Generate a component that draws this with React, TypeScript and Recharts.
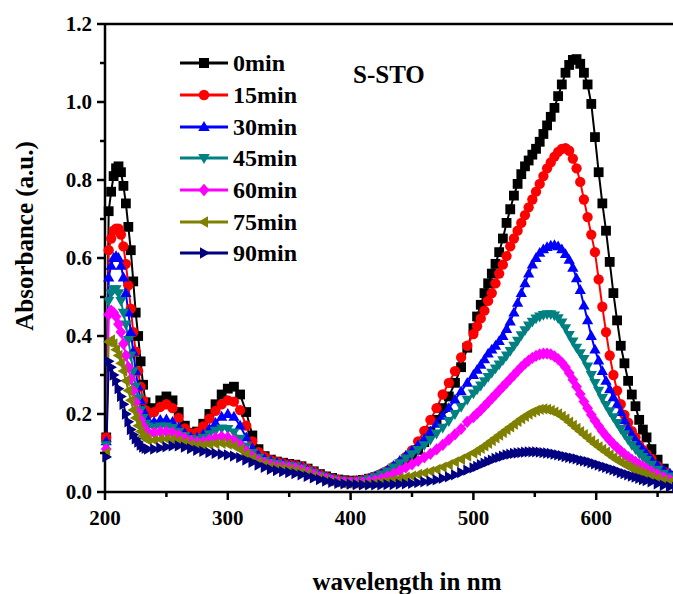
import { LineChart, Line, XAxis, YAxis, ReferenceLine, Legend, Label } from 'recharts';

// wavelength grid (nm)
const WAVELENGTH = [
  201, 203, 205, 207, 209, 211, 213, 215, 217, 219, 221, 223, 225, 227, 229, 231, 233, 235,
  240, 245, 250, 255, 260, 265, 270, 275, 280, 285,
  290, 295, 300, 305, 310, 315, 320, 325, 330, 335,
  340, 345, 350, 355, 360, 365, 370, 375, 380, 385,
  390, 395, 400, 405, 410, 415, 420, 425, 430, 435,
  440, 445, 450, 455, 460, 465, 470, 475, 480, 485,
  490, 495, 500,
  503, 506, 509, 512, 515, 518, 521, 524, 527, 530,
  533, 536, 539, 542, 545, 548, 551, 554, 557, 560,
  563, 566, 569, 572, 575, 578, 581, 584, 587, 590,
  593, 596, 599, 602, 605, 608, 611, 614, 617, 620,
  623, 626, 629, 632, 635, 638, 641,
  645, 650, 655, 660, 665,
];

const ABS_0 = [
  0.14, 0.72, 0.77, 0.81, 0.83, 0.835, 0.82, 0.785, 0.74, 0.68, 0.62, 0.54, 0.46, 0.4, 0.335, 0.275, 0.23, 0.205,
  0.215, 0.235, 0.245, 0.235, 0.205, 0.17, 0.152, 0.155, 0.175, 0.2,
  0.225, 0.25, 0.265, 0.27, 0.25, 0.205, 0.145, 0.11, 0.092, 0.083,
  0.078, 0.075, 0.072, 0.07, 0.066, 0.06, 0.053, 0.046, 0.04, 0.036,
  0.032, 0.03, 0.029, 0.029, 0.031, 0.034, 0.038, 0.043, 0.05, 0.058,
  0.065, 0.078, 0.092, 0.108, 0.128, 0.155, 0.185, 0.215, 0.245, 0.28,
  0.32, 0.37, 0.42,
  0.45, 0.48, 0.51, 0.535, 0.56, 0.585, 0.615, 0.65, 0.69, 0.725,
  0.76, 0.79, 0.815, 0.835, 0.85, 0.865, 0.88, 0.898, 0.918, 0.94,
  0.962, 0.985, 1.015, 1.045, 1.075, 1.095, 1.108, 1.11, 1.098, 1.075,
  1.045, 0.995, 0.91, 0.82, 0.74, 0.67, 0.59, 0.51, 0.44, 0.375,
  0.33, 0.285, 0.25, 0.22, 0.185, 0.16, 0.14,
  0.11, 0.083, 0.06, 0.042, 0.03,
];

const ABS_15 = [
  0.14, 0.62, 0.65, 0.67, 0.675, 0.675, 0.66, 0.63, 0.585, 0.53, 0.47, 0.41, 0.36, 0.31, 0.27, 0.235, 0.21, 0.2,
  0.205, 0.218, 0.225, 0.215, 0.19, 0.163, 0.15, 0.153, 0.168, 0.188,
  0.208, 0.225, 0.235, 0.232, 0.21, 0.17, 0.13, 0.102, 0.09, 0.082,
  0.077, 0.074, 0.071, 0.069, 0.065, 0.059, 0.052, 0.045, 0.039, 0.035,
  0.031, 0.029, 0.028, 0.029, 0.031, 0.035, 0.04, 0.047, 0.055, 0.065,
  0.075, 0.09, 0.107, 0.13, 0.157, 0.185, 0.215, 0.25, 0.28, 0.31,
  0.345, 0.375, 0.405,
  0.425, 0.445, 0.465, 0.49, 0.51, 0.535, 0.56, 0.583, 0.605, 0.63,
  0.65, 0.67, 0.69, 0.71, 0.73, 0.75, 0.77, 0.79, 0.81, 0.83,
  0.845, 0.86, 0.872, 0.88, 0.882, 0.875, 0.855, 0.83, 0.795, 0.75,
  0.705, 0.66, 0.615, 0.545, 0.475, 0.41, 0.35, 0.3, 0.26, 0.225,
  0.198, 0.178, 0.156, 0.14, 0.12, 0.108, 0.097,
  0.085, 0.066, 0.052, 0.041, 0.032,
];

const ABS_30 = [
  0.13, 0.55, 0.58, 0.6, 0.605, 0.6, 0.58, 0.55, 0.51, 0.46, 0.41, 0.36, 0.31, 0.27, 0.235, 0.21, 0.195, 0.185,
  0.18, 0.185, 0.186, 0.18, 0.166, 0.15, 0.141, 0.14, 0.148, 0.162,
  0.177, 0.193, 0.2, 0.193, 0.17, 0.14, 0.112, 0.094, 0.085, 0.079,
  0.075, 0.072, 0.069, 0.067, 0.063, 0.057, 0.05, 0.044, 0.038, 0.034,
  0.03, 0.028, 0.027, 0.028, 0.03, 0.034, 0.04, 0.047, 0.056, 0.067,
  0.08, 0.093, 0.106, 0.12, 0.136, 0.155, 0.175, 0.195, 0.215, 0.237,
  0.258, 0.28, 0.3,
  0.313, 0.326, 0.34, 0.355, 0.365, 0.375, 0.387, 0.4, 0.418, 0.437,
  0.46, 0.485, 0.51, 0.535, 0.56, 0.583, 0.6, 0.613, 0.622, 0.628,
  0.632, 0.633, 0.63, 0.622, 0.61, 0.595, 0.575, 0.548, 0.518, 0.478,
  0.44, 0.4, 0.365, 0.337, 0.31, 0.285, 0.263, 0.243, 0.225, 0.205,
  0.184, 0.163, 0.147, 0.133, 0.12, 0.108, 0.098,
  0.083, 0.068, 0.057, 0.048, 0.04,
];

const ABS_45 = [
  0.12, 0.49, 0.51, 0.52, 0.52, 0.51, 0.49, 0.46, 0.43, 0.39, 0.35, 0.31, 0.27, 0.24, 0.21, 0.19, 0.175, 0.168,
  0.165, 0.168, 0.168, 0.164, 0.155, 0.144, 0.136, 0.134, 0.139, 0.148,
  0.157, 0.163, 0.162, 0.153, 0.137, 0.117, 0.1, 0.088, 0.08, 0.075,
  0.072, 0.069, 0.067, 0.065, 0.06, 0.054, 0.048, 0.042, 0.037, 0.032,
  0.029, 0.027, 0.026, 0.027, 0.029, 0.033, 0.038, 0.045, 0.053, 0.063,
  0.074, 0.086, 0.097, 0.108, 0.12, 0.134, 0.15, 0.165, 0.182, 0.2,
  0.218, 0.237, 0.253,
  0.263, 0.273, 0.284, 0.295, 0.306, 0.317, 0.327, 0.338, 0.35, 0.362,
  0.375, 0.388, 0.402, 0.415, 0.427, 0.437, 0.445, 0.45, 0.454, 0.456,
  0.456, 0.453, 0.446, 0.435, 0.42, 0.403, 0.386, 0.37, 0.356, 0.341,
  0.322, 0.3, 0.28, 0.26, 0.241, 0.223, 0.207, 0.192, 0.177, 0.162,
  0.148, 0.134, 0.121, 0.11, 0.099, 0.09, 0.082,
  0.07, 0.057, 0.047, 0.04, 0.034,
];

const ABS_60 = [
  0.11, 0.455, 0.465, 0.46, 0.45, 0.43, 0.41, 0.38, 0.35, 0.32, 0.29, 0.26, 0.23, 0.205, 0.185, 0.17, 0.16, 0.153,
  0.152, 0.155, 0.155, 0.152, 0.146, 0.138, 0.131, 0.128, 0.129, 0.134,
  0.139, 0.142, 0.14, 0.133, 0.121, 0.105, 0.091, 0.081, 0.075, 0.07,
  0.067, 0.065, 0.063, 0.061, 0.057, 0.051, 0.045, 0.039, 0.034, 0.03,
  0.027, 0.025, 0.024, 0.024, 0.025, 0.027, 0.03, 0.034, 0.04, 0.047,
  0.055, 0.063, 0.071, 0.08, 0.089, 0.098, 0.109, 0.121, 0.134, 0.148,
  0.162, 0.18, 0.192,
  0.201, 0.21, 0.22, 0.23, 0.24, 0.25, 0.26, 0.27, 0.28, 0.29,
  0.3, 0.31, 0.32, 0.329, 0.337, 0.344, 0.349, 0.353, 0.355, 0.355,
  0.353, 0.348, 0.341, 0.332, 0.32, 0.305, 0.288, 0.27, 0.251, 0.232,
  0.215, 0.198, 0.183, 0.169, 0.156, 0.144, 0.133, 0.123, 0.114, 0.105,
  0.097, 0.09, 0.083, 0.077, 0.071, 0.065, 0.06,
  0.053, 0.045, 0.038, 0.032, 0.027,
];

const ABS_75 = [
  0.1, 0.385, 0.39, 0.38, 0.365, 0.35, 0.33, 0.31, 0.285, 0.26, 0.235, 0.21, 0.19, 0.17, 0.155, 0.143, 0.137, 0.133,
  0.133, 0.135, 0.136, 0.135, 0.132, 0.127, 0.122, 0.12, 0.12, 0.122,
  0.124, 0.125, 0.123, 0.118, 0.109, 0.097, 0.086, 0.076, 0.07, 0.065,
  0.062, 0.06, 0.058, 0.055, 0.051, 0.046, 0.04, 0.035, 0.03, 0.026,
  0.023, 0.021, 0.02, 0.02, 0.02, 0.021, 0.023, 0.025, 0.028, 0.031,
  0.035, 0.038, 0.041, 0.045, 0.049, 0.053, 0.058, 0.064, 0.07, 0.077,
  0.084, 0.092, 0.1,
  0.106, 0.112, 0.118, 0.125, 0.132, 0.139, 0.146, 0.153, 0.16, 0.167,
  0.174, 0.181, 0.188, 0.194, 0.2, 0.205, 0.209, 0.212, 0.213, 0.212,
  0.209, 0.205, 0.2, 0.194, 0.187, 0.179, 0.171, 0.163, 0.155, 0.147,
  0.139, 0.131, 0.123, 0.116, 0.109, 0.102, 0.095, 0.088, 0.082, 0.076,
  0.071, 0.066, 0.061, 0.056, 0.052, 0.048, 0.044,
  0.04, 0.035, 0.03, 0.026, 0.023,
];

const ABS_90 = [
  0.09, 0.335, 0.32, 0.3, 0.285, 0.265, 0.245, 0.225, 0.2, 0.18, 0.16, 0.147, 0.136, 0.128, 0.12, 0.115, 0.112, 0.11,
  0.11, 0.113, 0.116, 0.118, 0.118, 0.115, 0.111, 0.107, 0.104, 0.101,
  0.099, 0.097, 0.095, 0.092, 0.088, 0.082, 0.076, 0.069, 0.063, 0.058,
  0.055, 0.052, 0.05, 0.047, 0.044, 0.04, 0.036, 0.032, 0.028, 0.025,
  0.022, 0.021, 0.02, 0.019, 0.018, 0.018, 0.018, 0.018, 0.019, 0.019,
  0.02, 0.021, 0.022, 0.024, 0.026, 0.028, 0.031, 0.035, 0.039, 0.044,
  0.05, 0.056, 0.062,
  0.066, 0.07, 0.074, 0.078, 0.082, 0.086, 0.089, 0.092, 0.095, 0.097,
  0.099, 0.1, 0.101, 0.102, 0.103, 0.103, 0.103, 0.102, 0.101, 0.1,
  0.099, 0.097, 0.095, 0.093, 0.091, 0.089, 0.087, 0.085, 0.082, 0.08,
  0.078, 0.075, 0.072, 0.069, 0.066, 0.063, 0.06, 0.057, 0.054, 0.05,
  0.047, 0.044, 0.041, 0.038, 0.035, 0.032, 0.029,
  0.026, 0.021, 0.017, 0.014, 0.012,
];

const X_TICKS = [200, 250, 300, 350, 400, 450, 500, 550, 600, 650];
const Y_TICKS = [0, 0.1, 0.2, 0.3, 0.4, 0.5, 0.6, 0.7, 0.8, 0.9, 1.0, 1.1, 1.2];

const SERIES = [
  { key: 'm0', name: '0min', color: '#000000', shape: 'square', values: ABS_0 },
  { key: 'm15', name: '15min', color: '#FF0000', shape: 'circle', values: ABS_15 },
  { key: 'm30', name: '30min', color: '#0000FF', shape: 'up', values: ABS_30 },
  { key: 'm45', name: '45min', color: '#008080', shape: 'down', values: ABS_45 },
  { key: 'm60', name: '60min', color: '#FF00FF', shape: 'diamond', values: ABS_60 },
  { key: 'm75', name: '75min', color: '#808000', shape: 'left', values: ABS_75 },
  { key: 'm90', name: '90min', color: '#000080', shape: 'right', values: ABS_90 },
];

const FONT = '"Liberation Serif", "Times New Roman", serif';

const chartData = WAVELENGTH.map((w, i) => {
  const row: Record<string, number> = { w };
  SERIES.forEach(s => { row[s.key] = s.values[i]; });
  return row;
});

function markerPath(shape: string, cx: number, cy: number, r: number) {
  switch (shape) {
    case 'square':
      return `M${cx - r},${cy - r}h${2 * r}v${2 * r}h${-2 * r}Z`;
    case 'up':
      return `M${cx},${cy - r * 1.2}L${cx + r * 1.15},${cy + r * 0.8}L${cx - r * 1.15},${cy + r * 0.8}Z`;
    case 'down':
      return `M${cx},${cy + r * 1.2}L${cx + r * 1.15},${cy - r * 0.8}L${cx - r * 1.15},${cy - r * 0.8}Z`;
    case 'diamond':
      return `M${cx},${cy - r * 1.25}L${cx + r * 1.1},${cy}L${cx},${cy + r * 1.25}L${cx - r * 1.1},${cy}Z`;
    case 'left':
      return `M${cx - r * 1.2},${cy}L${cx + r * 0.8},${cy - r * 1.15}L${cx + r * 0.8},${cy + r * 1.15}Z`;
    default:
      return `M${cx + r * 1.2},${cy}L${cx - r * 0.8},${cy - r * 1.15}L${cx - r * 0.8},${cy + r * 1.15}Z`;
  }
}

function Marker({ cx, cy, shape, color, r }: { cx: number; cy: number; shape: string; color: string; r: number }) {
  if (cx == null || cy == null) return null;
  if (shape === 'circle') return <circle cx={cx} cy={cy} r={r * 1.05} fill={color} />;
  return <path d={markerPath(shape, cx, cy, r)} fill={color} />;
}

function XTick(props: any) {
  const { x, y, payload } = props;
  const major = payload.value % 100 === 0;
  return (
    <g>
      <line x1={x} x2={x} y1={y} y2={y + (major ? 8 : 5)} stroke="#000" strokeWidth={2.5} />
      {major && (
        <text x={x} y={y + 33} textAnchor="middle" fontFamily={FONT} fontWeight="bold" fontSize={21} fill="#000">
          {payload.value}
        </text>
      )}
    </g>
  );
}

function YTick(props: any) {
  const { x, y, payload } = props;
  const major = Math.round(payload.value * 10) % 2 === 0;
  return (
    <g>
      <line x1={x} x2={x - (major ? 8 : 5)} y1={y} y2={y} stroke="#000" strokeWidth={2.5} />
      {major && (
        <text x={x - 13} y={y + 7} textAnchor="end" fontFamily={FONT} fontWeight="bold" fontSize={21} fill="#000">
          {payload.value.toFixed(1)}
        </text>
      )}
    </g>
  );
}

const renderLegend = () => (
  <div style={{ fontFamily: FONT, fontWeight: 'bold', fontSize: 24, color: '#000' }}>
    {SERIES.map(s => (
      <div key={s.key} style={{ display: 'flex', alignItems: 'center', height: 31.67 }}>
        <svg width={52} height={20}>
          <line x1={2} x2={50} y1={10} y2={10} stroke={s.color} strokeWidth={3} />
          <Marker cx={26} cy={10} shape={s.shape} color={s.color} r={5} />
        </svg>
        <span style={{ marginLeft: 3, lineHeight: 1 }}>{s.name}</span>
      </div>
    ))}
  </div>
);

export default function App() {
  return (
    <div style={{ position: 'fixed', left: 0, top: 0, width: 673, height: 594, overflow: 'hidden', background: '#fff' }}>
      <LineChart width={729} height={594} data={chartData} margin={{ top: 24, right: 10, bottom: 0, left: 0 }}>
        <XAxis
          dataKey="w"
          type="number"
          domain={[200, 700]}
          ticks={X_TICKS}
          interval={0}
          height={102}
          tickSize={0}
          tickMargin={0}
          tickLine={false}
          tick={<XTick />}
          axisLine={{ stroke: '#000', strokeWidth: 2.5 }}
        >
          <Label
            content={() => (
              <text x={407} y={590} textAnchor="middle" fontFamily={FONT} fontWeight="bold" fontSize={25} fill="#000">
                wavelength in nm
              </text>
            )}
          />
        </XAxis>
        <YAxis
          type="number"
          domain={[0, 1.2]}
          ticks={Y_TICKS}
          interval={0}
          width={105}
          tickSize={0}
          tickMargin={0}
          tickLine={false}
          tick={<YTick />}
          axisLine={{ stroke: '#000', strokeWidth: 2.5 }}
        >
          <Label
            content={() => (
              <text
                x={33}
                y={236}
                transform="rotate(-90 33 236)"
                textAnchor="middle"
                fontFamily={FONT}
                fontWeight="bold"
                fontSize={25}
                fill="#000"
              >
                Absorbance (a.u.)
              </text>
            )}
          />
        </YAxis>
        <ReferenceLine y={1.2} stroke="#000" strokeWidth={2.5} />
        <Legend
          layout="vertical"
          align="center"
          verticalAlign="middle"
          content={renderLegend}
          wrapperStyle={{ position: 'absolute', left: 178, top: 47.5, width: 170 }}
        />
        {SERIES.map(s => (
          <Line
            key={s.key}
            dataKey={s.key}
            name={s.name}
            stroke={s.color}
            strokeWidth={2}
            isAnimationActive={false}
            activeDot={false}
            dot={(p: any) => <Marker key={p.index} cx={p.cx} cy={p.cy} shape={s.shape} color={s.color} r={4.9} />}
          />
        ))}
        <text x={353} y={83} fontFamily={FONT} fontWeight="bold" fontSize={25} fill="#000">
          S-STO
        </text>
      </LineChart>
    </div>
  );
}
